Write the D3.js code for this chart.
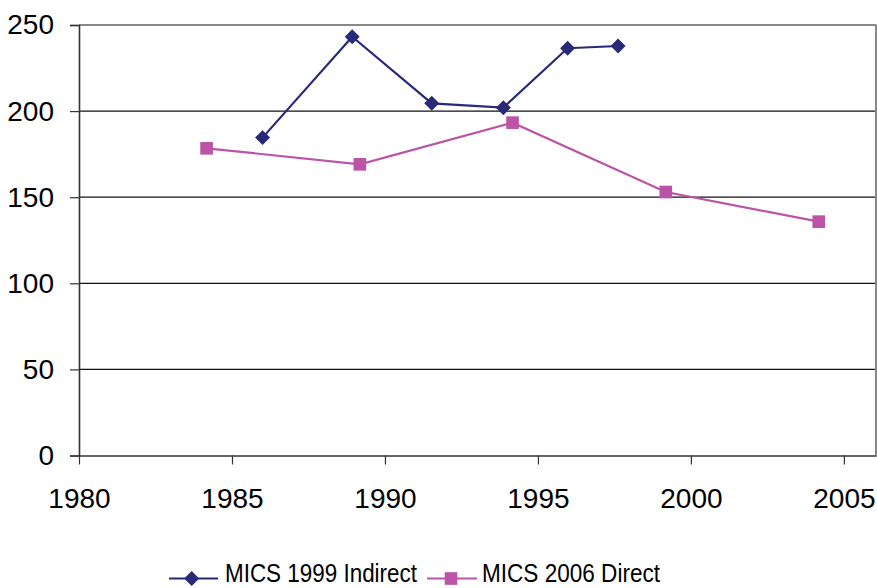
<!DOCTYPE html>
<html>
<head>
<meta charset="utf-8">
<script src="https://cdn.jsdelivr.net/npm/d3@7"></script>
<style>
  html, body { margin: 0; padding: 0; background: #fff; }
  svg { display: block; font-family: "Liberation Sans", Arial, sans-serif; }
</style>
</head>
<body>
<svg id="chart" width="877" height="588"></svg>
<script>
// Under-five mortality estimates by survey and method
const indirectYears  = [1986.0, 1988.93, 1991.53, 1993.87, 1995.97, 1997.62];
const indirectValues = [184.6, 243.2, 204.5, 202.0, 236.5, 237.8];
const directYears    = [1984.17, 1989.18, 1994.17, 1999.18, 2004.18];
const directValues   = [178.4, 169.1, 193.3, 153.0, 135.8];
const xTicks = [1980, 1985, 1990, 1995, 2000, 2005];
const yTicks = [0, 50, 100, 150, 200, 250];
const seriesNames = ["MICS 1999 Indirect", "MICS 2006 Direct"];
const seriesColors = ["#29297a", "#bb54a6"];

const svg = d3.select("#chart");
const plotLeft = 79, plotRight = 876, plotTop = 25, plotBottom = 455.5;

const x = d3.scaleLinear().domain([1980, 2006.05]).range([plotLeft, plotRight]);
const y = d3.scaleLinear().domain([0, 250]).range([plotBottom, plotTop]);

// horizontal gridlines
svg.append("g").selectAll("line")
  .data(yTicks.filter(v => v > 0 && v < 250))
  .join("line")
  .attr("x1", plotLeft).attr("x2", plotRight)
  .attr("y1", d => y(d)).attr("y2", d => y(d))
  .attr("stroke", "#111").attr("stroke-width", 1.2);

// plot frame: top and right edges in gray
svg.append("line").attr("x1", plotLeft).attr("x2", plotRight + 0.5)
  .attr("y1", y(250)).attr("y2", y(250))
  .attr("stroke", "#888").attr("stroke-width", 2);
svg.append("line").attr("x1", plotRight).attr("x2", plotRight)
  .attr("y1", y(250)).attr("y2", plotBottom)
  .attr("stroke", "#888").attr("stroke-width", 2);

// y axis
const yAxis = svg.append("g")
  .attr("transform", `translate(${plotLeft},0)`)
  .call(d3.axisLeft(y).tickValues(yTicks).tickSize(9).tickPadding(16).tickFormat(d3.format("d")));
yAxis.select(".domain").attr("stroke", "#333").attr("stroke-width", 1.6);
yAxis.selectAll(".tick line").attr("stroke", "#333").attr("stroke-width", 1.2);
yAxis.selectAll("text").attr("font-size", 28).attr("fill", "#000")
  .attr("font-family", "'Liberation Sans', Arial, sans-serif");

// x axis
const xAxis = svg.append("g")
  .attr("transform", `translate(0,${plotBottom})`)
  .call(d3.axisBottom(x).tickValues(xTicks).tickSize(9).tickSizeOuter(0).tickPadding(24).tickFormat(d3.format("d")));
xAxis.select(".domain").attr("stroke", "#333").attr("stroke-width", 1.6);
xAxis.selectAll(".tick line").attr("stroke", "#333").attr("stroke-width", 1.2);
xAxis.selectAll("text").attr("font-size", 28).attr("fill", "#000")
  .attr("font-family", "'Liberation Sans', Arial, sans-serif");

const line = d3.line().x(d => x(d[0])).y(d => y(d[1]));
const indirect = indirectYears.map((yr, i) => [yr, indirectValues[i]]);
const direct = directYears.map((yr, i) => [yr, directValues[i]]);

const diamond = d3.symbol().type(d3.symbolSquare).size(112);
const square = d3.symbol().type(d3.symbolSquare).size(160);

// Direct series
svg.append("path").datum(direct).attr("d", line)
  .attr("fill", "none").attr("stroke", seriesColors[1]).attr("stroke-width", 2.2);
svg.append("g").selectAll("path").data(direct).join("path")
  .attr("d", square)
  .attr("transform", d => `translate(${x(d[0])},${y(d[1])})`)
  .attr("fill", seriesColors[1]);

// Indirect series
svg.append("path").datum(indirect).attr("d", line)
  .attr("fill", "none").attr("stroke", seriesColors[0]).attr("stroke-width", 2.2);
svg.append("g").selectAll("path").data(indirect).join("path")
  .attr("d", diamond)
  .attr("transform", d => `translate(${x(d[0])},${y(d[1])}) rotate(45)`)
  .attr("fill", seriesColors[0]);

// legend
const legendY = 578.5;
const legendItems = [
  { x0: 169, x1: 218, mx: 191.7, tx: 225, tw: 192, marker: "diamond" },
  { x0: 427, x1: 477, mx: 451, tx: 482, tw: 178, marker: "square" }
];
const lg = svg.append("g");
legendItems.forEach((it, i) => {
  lg.append("line").attr("x1", it.x0).attr("x2", it.x1)
    .attr("y1", legendY).attr("y2", legendY)
    .attr("stroke", seriesColors[i]).attr("stroke-width", 2.2);
  lg.append("path")
    .attr("d", it.marker === "diamond" ? diamond : square)
    .attr("transform", `translate(${it.mx},${legendY})` + (it.marker === "diamond" ? " rotate(45)" : ""))
    .attr("fill", seriesColors[i]);
  lg.append("text").attr("x", it.tx).attr("y", 582)
    .attr("font-size", 25).attr("fill", "#000")
    .attr("textLength", it.tw).attr("lengthAdjust", "spacingAndGlyphs")
    .text(seriesNames[i]);
});
</script>
</body>
</html>
